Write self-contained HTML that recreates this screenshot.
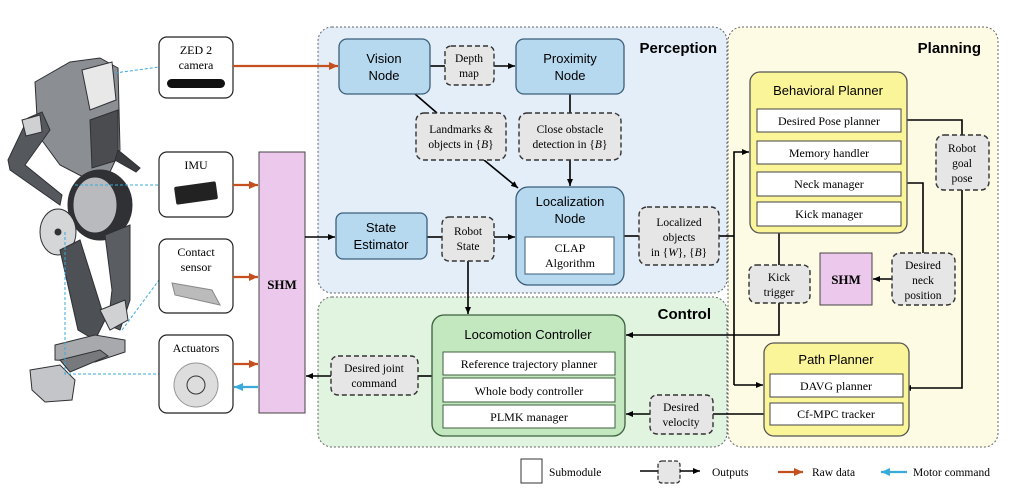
<!DOCTYPE html>
<html><head><meta charset="utf-8"><style>
html,body{margin:0;padding:0;background:#fff;}
svg{display:block;}
.s{font-family:"Liberation Sans","DejaVu Sans",sans-serif;}
.r{font-family:"Liberation Serif",serif;}
</style></head><body>
<svg width="1017" height="500" viewBox="0 0 1017 500" xmlns="http://www.w3.org/2000/svg">
<defs>
<marker id="a" markerWidth="8" markerHeight="8" refX="7" refY="4" orient="auto" markerUnits="userSpaceOnUse"><path d="M0,1 L7,4 L0,7 z" fill="#000"/></marker>
<marker id="ar" markerWidth="10" markerHeight="10" refX="9" refY="5" orient="auto" markerUnits="userSpaceOnUse"><path d="M0,1 L9,5 L0,9 z" fill="#c5501f"/></marker>
<marker id="ab" markerWidth="10" markerHeight="10" refX="9" refY="5" orient="auto" markerUnits="userSpaceOnUse"><path d="M0,1 L9,5 L0,9 z" fill="#3aa9dc"/></marker>
</defs>

<!-- regions -->
<rect x="318" y="27" width="409" height="266" rx="14" fill="#e3eef9" stroke="#666" stroke-dasharray="2,2"/>
<rect x="318" y="297" width="409" height="150" rx="14" fill="#e0f4e0" stroke="#666" stroke-dasharray="2,2"/>
<rect x="728" y="27" width="270" height="420" rx="14" fill="#fdfbe3" stroke="#666" stroke-dasharray="2,2"/>
<text x="717" y="53" text-anchor="end" class="s" font-size="15" font-weight="bold">Perception</text>
<text x="981" y="53" text-anchor="end" class="s" font-size="15" font-weight="bold">Planning</text>
<text x="711" y="319" text-anchor="end" class="s" font-size="15" font-weight="bold">Control</text>

<!-- robot approximation -->
<g stroke="#2e3034" stroke-width="1">
<!-- head -->
<path d="M35,82 L70,62 L100,58 L118,68 L120,150 L110,172 L85,178 L60,165 L38,135 z" fill="#8b8e93"/>
<path d="M82,70 L112,62 L116,100 L90,110 z" fill="#e8e8e8"/>
<path d="M90,120 L118,110 L118,160 L92,168 z" fill="#4a4c50"/>
<path d="M118,150 L140,168 L136,172 L115,160 z" fill="#3a3c40"/>
<!-- arm -->
<path d="M28,118 L42,112 L50,130 L25,165 L62,195 L60,205 L10,170 L8,160 z" fill="#55585c"/>
<path d="M22,120 L40,115 L42,132 L26,136 z" fill="#cfd0d2"/>
<!-- hip discs -->
<ellipse cx="100" cy="205" rx="32" ry="35" fill="#2f3134"/>
<ellipse cx="95" cy="205" rx="22" ry="28" fill="#b8babd"/>
<ellipse cx="58" cy="232" rx="18" ry="23" fill="#d5d6d8"/>
<circle cx="58" cy="232" r="3" fill="#333"/>
<!-- legs -->
<path d="M60,250 L80,240 L105,320 L95,340 L78,330 z" fill="#4d5054"/>
<path d="M105,235 L130,225 L130,300 L120,330 L108,325 L112,290 z" fill="#5a5d61"/>
<path d="M100,310 L125,300 L128,320 L110,330 z" fill="#d0d1d3"/>
<!-- feet -->
<path d="M55,345 L95,335 L125,340 L125,352 L95,362 L55,360 z" fill="#a7a9ac"/>
<path d="M30,370 L60,365 L75,380 L72,400 L45,402 L32,390 z" fill="#c3c5c8"/>
<path d="M60,360 L100,350 L108,356 L70,372 z" fill="#77797d"/>
</g>
<g stroke="#3aa9dc" stroke-dasharray="3,2" fill="none" stroke-width="1">
<path d="M115,73 L159,67"/>
<path d="M75,185 L159,185"/>
<path d="M122,330 L159,280"/>
<path d="M65,232 L65,374 L159,374"/>
</g>

<!-- sensor boxes -->
<g fill="#fff" stroke="#222" stroke-width="1.2">
<rect x="159" y="37" width="74" height="61" rx="8"/>
<rect x="159" y="152" width="74" height="65" rx="8"/>
<rect x="159" y="239" width="74" height="74" rx="8"/>
<rect x="159" y="335" width="74" height="78" rx="8"/>
</g>
<g class="r" font-size="12" text-anchor="middle">
<text x="196" y="54">ZED 2</text><text x="196" y="69">camera</text>
<text x="196" y="169">IMU</text>
<text x="196" y="256">Contact</text><text x="196" y="271">sensor</text>
<text x="196" y="352">Actuators</text>
</g>
<rect x="167" y="79" width="58" height="9" rx="4.5" fill="#111"/>
<rect x="175" y="184" width="42" height="18" rx="2" fill="#222" transform="rotate(-8 196 193)"/>
<path d="M172,283 L212,290 L220,305 L175,295 z" fill="#bbb" stroke="#888"/>
<circle cx="196" cy="385" r="22" fill="#ddd" stroke="#999"/>
<circle cx="196" cy="385" r="9" fill="none" stroke="#333"/>

<!-- SHM -->
<rect x="259" y="152" width="46" height="261" fill="#ecc8ec" stroke="#444"/>
<text x="282" y="289" text-anchor="middle" class="r" font-size="13" font-weight="bold">SHM</text>

<!-- red/blue arrows -->
<g stroke="#c5501f" stroke-width="2.2" marker-end="url(#ar)">
<line x1="233" y1="66" x2="338" y2="66"/>
<line x1="233" y1="185" x2="258" y2="185"/>
<line x1="233" y1="277" x2="258" y2="277"/>
<line x1="233" y1="364" x2="258" y2="364"/>
</g>
<line x1="258" y1="387" x2="234" y2="387" stroke="#3aa9dc" stroke-width="2.2" marker-end="url(#ab)"/>

<!-- black connectors -->
<g stroke="#000" stroke-width="1.6" fill="none">
<line x1="305" y1="237" x2="335" y2="237" marker-end="url(#a)"/>
<line x1="430" y1="66" x2="445" y2="66"/>
<line x1="494" y1="66" x2="515" y2="66" marker-end="url(#a)"/>
<line x1="415" y1="94" x2="437" y2="113"/>
<line x1="484" y1="160" x2="518" y2="188" marker-end="url(#a)"/>
<line x1="570" y1="94" x2="570" y2="113"/>
<line x1="570" y1="160" x2="570" y2="186" marker-end="url(#a)"/>
<line x1="427" y1="237" x2="442" y2="237"/>
<line x1="494" y1="237" x2="515" y2="237" marker-end="url(#a)"/>
<line x1="468" y1="261" x2="468" y2="314" marker-end="url(#a)"/>
<line x1="624" y1="236" x2="639" y2="236"/>
<line x1="719" y1="236" x2="734" y2="236"/>
<path d="M734,385 L734,152 L749,152" marker-end="url(#a)"/>
<path d="M734,385 L763,385" marker-end="url(#a)"/>
<line x1="779" y1="226" x2="779" y2="265"/>
<path d="M779,303 L779,335 L626,335" marker-end="url(#a)"/>
<path d="M901,120 L962,120 L962,135"/>
<path d="M962,190 L962,388 L904,388" marker-end="url(#a)"/>
<path d="M901,183 L923,183 L923,253"/>
<line x1="892" y1="279" x2="873" y2="279" marker-end="url(#a)"/>
<line x1="770" y1="414" x2="713" y2="414"/>
<line x1="650" y1="414" x2="626" y2="414" marker-end="url(#a)"/>
<line x1="432" y1="376" x2="418" y2="376"/>
<line x1="331" y1="376" x2="306" y2="376" marker-end="url(#a)"/>
</g>

<!-- blue nodes -->
<g fill="#b6d9f0" stroke="#3b5f7a" stroke-width="1.3">
<rect x="339" y="39" width="91" height="55" rx="8"/>
<rect x="516" y="39" width="108" height="55" rx="8"/>
<rect x="336" y="213" width="91" height="46" rx="7"/>
<rect x="516" y="187" width="108" height="98" rx="12"/>
</g>
<rect x="525" y="237" width="89" height="37" fill="#fff" stroke="#3b5f7a"/>
<g class="s" font-size="13" text-anchor="middle">
<text x="384" y="63">Vision</text><text x="384" y="80">Node</text>
<text x="570" y="63">Proximity</text><text x="570" y="80">Node</text>
<text x="381" y="232">State</text><text x="381" y="249">Estimator</text>
<text x="570" y="206">Localization</text><text x="570" y="223">Node</text>
</g>
<g class="r" font-size="12" text-anchor="middle"><text x="570" y="252">CLAP</text><text x="570" y="267">Algorithm</text></g>

<!-- dashed outputs -->
<g fill="#e6e6e6" stroke="#333" stroke-width="1.4" stroke-dasharray="5,3">
<rect x="445" y="46" width="49" height="39" rx="6"/>
<rect x="416" y="113" width="90" height="47" rx="8"/>
<rect x="519" y="113" width="102" height="47" rx="8"/>
<rect x="442" y="217" width="52" height="44" rx="7"/>
<rect x="639" y="207" width="80" height="58" rx="8"/>
<rect x="936" y="135" width="53" height="55" rx="8"/>
<rect x="749" y="265" width="61" height="38" rx="7"/>
<rect x="892" y="253" width="63" height="52" rx="8"/>
<rect x="331" y="356" width="87" height="39" rx="7"/>
<rect x="650" y="395" width="63" height="39" rx="7"/>
</g>
<g class="r" font-size="11.5" text-anchor="middle">
<text x="469" y="62">Depth</text><text x="469" y="77">map</text>
<text x="461" y="133">Landmarks &amp;</text><text x="461" y="148">objects in {<tspan font-style="italic">B</tspan>}</text>
<text x="570" y="133">Close obstacle</text><text x="570" y="148">detection in {<tspan font-style="italic">B</tspan>}</text>
<text x="468" y="235">Robot</text><text x="468" y="250">State</text>
<text x="679" y="226">Localized</text><text x="679" y="241">objects</text><text x="679" y="256">in {<tspan font-style="italic">W</tspan>}, {<tspan font-style="italic">B</tspan>}</text>
<text x="962" y="152">Robot</text><text x="962" y="167">goal</text><text x="962" y="182">pose</text>
<text x="779" y="281">Kick</text><text x="779" y="296">trigger</text>
<text x="923" y="269">Desired</text><text x="923" y="284">neck</text><text x="923" y="299">position</text>
<text x="374" y="372">Desired joint</text><text x="374" y="387">command</text>
<text x="681" y="411">Desired</text><text x="681" y="426">velocity</text>
</g>

<!-- small SHM -->
<rect x="820" y="253" width="52" height="52" fill="#ecc8ec" stroke="#444"/>
<text x="846" y="284" text-anchor="middle" class="r" font-size="13" font-weight="bold">SHM</text>

<!-- yellow planners -->
<g fill="#fbf59a" stroke="#555" stroke-width="1.3">
<rect x="750" y="72" width="157" height="161" rx="10"/>
<rect x="764" y="343" width="145" height="93" rx="10"/>
</g>
<g class="s" font-size="13" text-anchor="middle">
<text x="828" y="95">Behavioral Planner</text>
<text x="836" y="364">Path Planner</text>
</g>
<g fill="#fff" stroke="#444">
<rect x="757" y="109" width="144" height="23"/>
<rect x="757" y="141" width="144" height="23"/>
<rect x="757" y="172" width="144" height="24"/>
<rect x="757" y="202" width="144" height="24"/>
<rect x="770" y="374" width="133" height="23"/>
<rect x="770" y="403" width="133" height="22"/>
</g>
<g class="r" font-size="12" text-anchor="middle">
<text x="829" y="125">Desired Pose planner</text>
<text x="829" y="157">Memory handler</text>
<text x="829" y="188">Neck manager</text>
<text x="829" y="218">Kick manager</text>
<text x="836" y="390">DAVG planner</text>
<text x="836" y="418">Cf-MPC tracker</text>
</g>

<!-- locomotion -->
<rect x="432" y="315" width="193" height="121" rx="12" fill="#c3e8c0" stroke="#3d5f3d" stroke-width="1.3"/>
<text x="528" y="339" text-anchor="middle" class="s" font-size="13">Locomotion Controller</text>
<g fill="#fff" stroke="#3d5f3d">
<rect x="443" y="352" width="172" height="23"/>
<rect x="443" y="378" width="172" height="24"/>
<rect x="443" y="405" width="172" height="23"/>
</g>
<g class="r" font-size="12" text-anchor="middle">
<text x="529" y="368">Reference trajectory planner</text>
<text x="529" y="395">Whole body controller</text>
<text x="529" y="421">PLMK manager</text>
</g>

<!-- legend -->
<rect x="521" y="459" width="21" height="24" fill="#fff" stroke="#333"/>
<text x="549" y="476" class="r" font-size="11.5">Submodule</text>
<line x1="640" y1="471" x2="658" y2="471" stroke="#000" stroke-width="1.5"/>
<rect x="658" y="461" width="22" height="22" rx="4" fill="#e6e6e6" stroke="#333" stroke-dasharray="4,2" stroke-width="1.3"/>
<line x1="680" y1="471" x2="700" y2="471" stroke="#000" stroke-width="1.5" marker-end="url(#a)"/>
<text x="712" y="476" class="r" font-size="11.5">Outputs</text>
<line x1="778" y1="472" x2="803" y2="472" stroke="#c5501f" stroke-width="2.2" marker-end="url(#ar)"/>
<text x="812" y="476" class="r" font-size="11.5">Raw data</text>
<line x1="907" y1="472" x2="881" y2="472" stroke="#3aa9dc" stroke-width="2.2" marker-end="url(#ab)"/>
<text x="913" y="476" class="r" font-size="11.5">Motor command</text>
</svg>
</body></html>
